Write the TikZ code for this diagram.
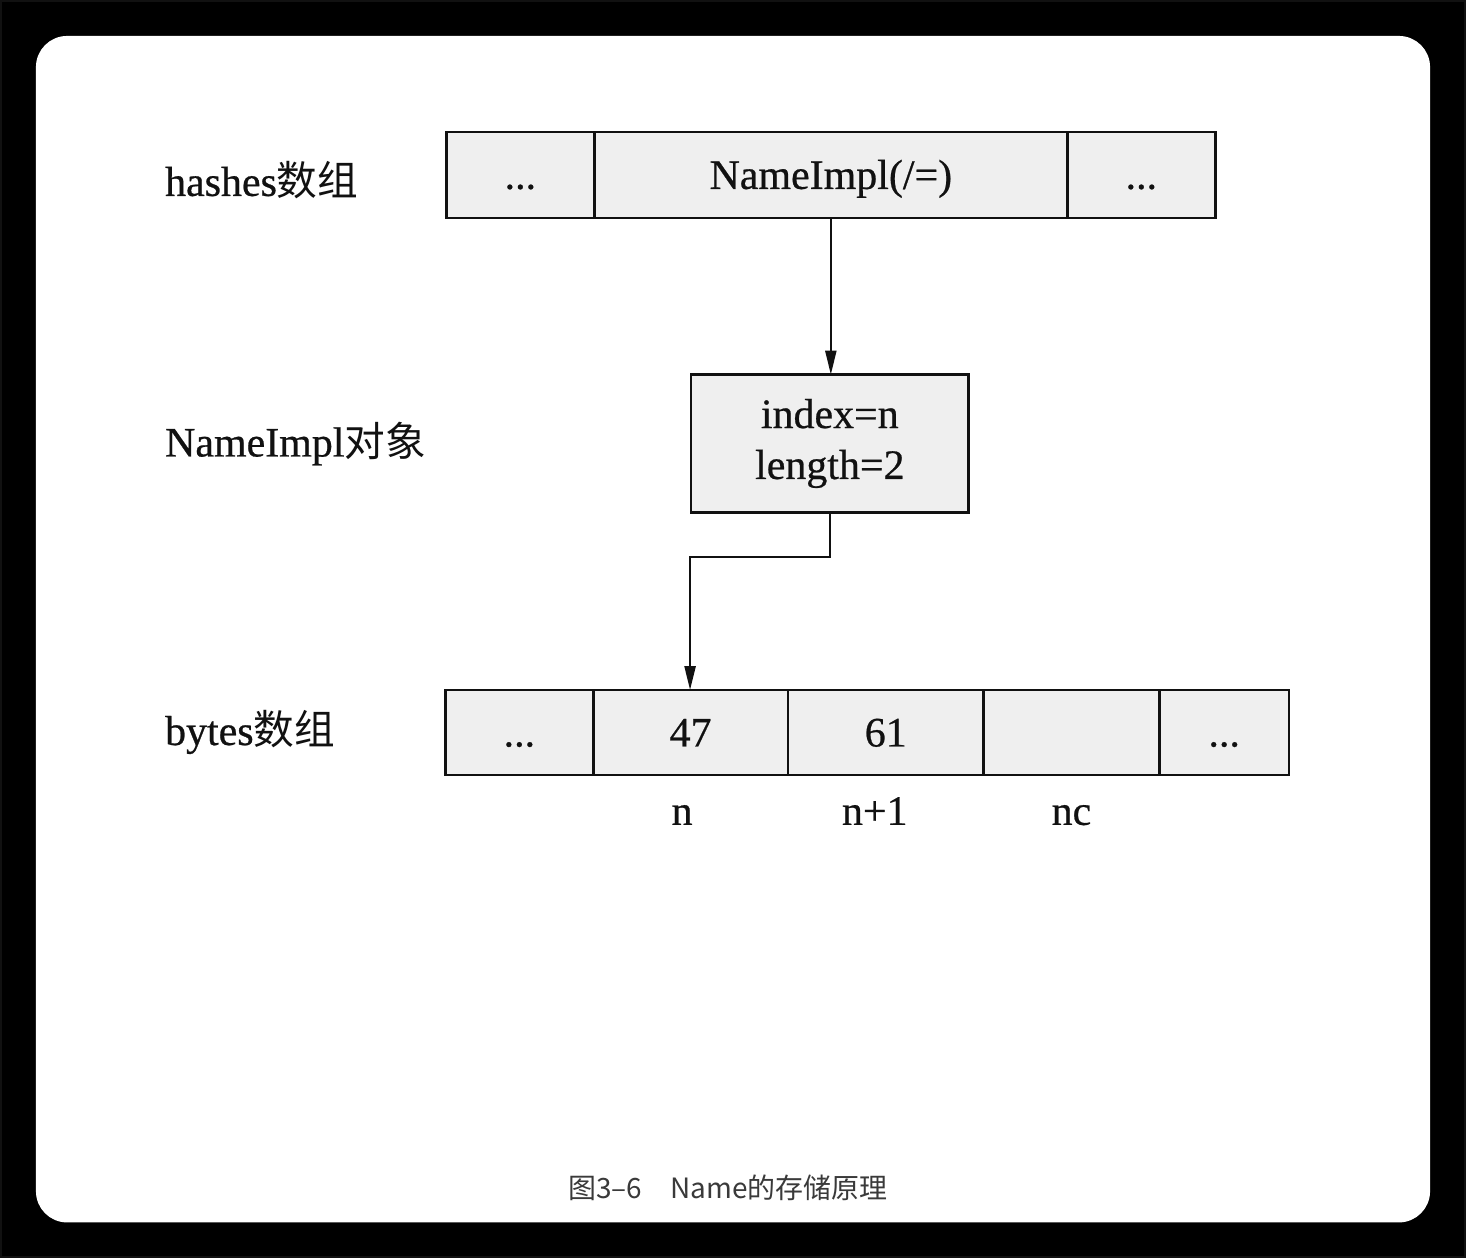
\documentclass[tikz,border=0pt]{standalone}
\usepackage{fontspec}
\setmainfont[FakeBold=0.6]{Liberation Serif}
\newfontfamily\cjk[Scale=0.97]{Noto Sans CJK SC}
\newfontfamily\capfont{Noto Sans CJK SC}
\usetikzlibrary{arrows.meta,positioning,calc}
\definecolor{nInk}{HTML}{111111}
\definecolor{nCell}{HTML}{EFEFEF}
\definecolor{nCap}{HTML}{3A3A3A}
\definecolor{nBack}{HTML}{000000}

\begin{document}
\begin{tikzpicture}[
  x=0.5pt, y=-0.5pt,
  font=\fontsize{21pt}{25.5pt}\selectfont, text=nInk,
  node distance=0pt,
  >={Triangle[length=12pt, width=5.5pt]},
  every path/.style={line width=1.2pt, draw=nInk},
  cell/.style={rectangle, draw=nInk, fill=nCell, line width=1.3pt, outer sep=0pt,
               inner sep=0pt, text height=14pt, text depth=0pt, align=center},
  hcell/.style={cell, minimum height=43pt},
  bcell/.style={cell, minimum height=42.5pt},
  obj/.style={rectangle, draw=nInk, fill=nCell, line width=1.3pt, outer sep=0pt,
              inner sep=0pt, minimum width=139pt, minimum height=69pt, align=center},
  lab/.style={anchor=base west, inner sep=0pt},
  idx/.style={anchor=base, inner sep=0pt},
]

% card
\useasboundingbox[fill=nBack] (0,0) rectangle (1466,1258);
\fill[white, rounded corners=15pt] (36,36) rectangle (1430,1222);

% row labels
\node[lab] (lhash) at (163,195) {hashes{\cjk 数组}};
\node[lab] (lobj) at (163,456) {NameImpl{\cjk 对象}};
\node[lab] (lbyte) at (163,745) {bytes{\cjk 数组}};

% hashes array
\node[hcell, minimum width=74pt, anchor=north west] (h1) at (446,131) {...};
\node[hcell, minimum width=237pt, right=of h1] (h2) {NameImpl(/=)};
\node[hcell, minimum width=74pt, right=of h2] (h3) {...};

% NameImpl object
\node[obj, anchor=north] (impl) at (830,374) {index=n\\length=2};

% bytes array
\node[bcell, minimum width=74pt, anchor=north west] (b1) at (445,690) {...};
\node[bcell, minimum width=97.5pt, right=of b1] (b2) {47};
\node[bcell, minimum width=98pt, right=of b2] (b3) {61};
\node[bcell, minimum width=88pt, right=of b3] (b4) {};
\node[bcell, minimum width=65pt, right=of b4] (b5) {...};

% indices
\node[idx] (in) at (682,825) {n};
\node[idx] (in1) at (875,825) {n+1};
\node[idx] (inc) at (1072,825) {nc};

% connectors
\draw[->] (h2.south) -- (h2.south |- impl.north);
\coordinate (bend) at (690,557);
\draw[->] (impl.south) |- (bend) -- (bend |- b2.north);

% caption
\node[anchor=base, inner sep=0pt, text=nCap, font=\capfont\fontsize{14pt}{16pt}\selectfont]
  (cap) at (728,1199) {图3–6\hspace{1em}Name的存储原理};

\end{tikzpicture}
\end{document}
